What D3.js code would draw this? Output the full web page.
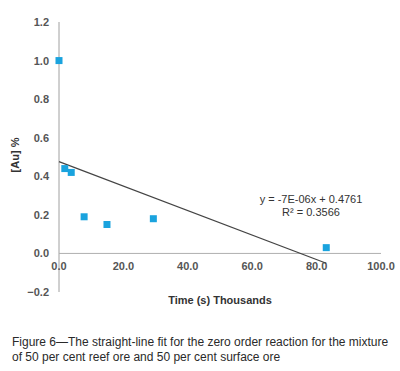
<!DOCTYPE html>
<html>
<head>
<meta charset="utf-8">
<script src="https://cdn.jsdelivr.net/npm/d3@7"></script>
<style>
  body { margin: 0; background: #fff; }
  svg { font-family: "Liberation Sans", Arial, sans-serif; }
</style>
</head>
<body>
<script>
// data (time in thousands of seconds, [Au] %)
const timeK = [0, 1.8, 3.8, 7.8, 14.9, 29.3, 83.0];
const auPct = [1.0, 0.44, 0.42, 0.19, 0.15, 0.18, 0.03];
const xTicks = [0, 20, 40, 60, 80, 100];
const yTicks = [-0.2, 0, 0.2, 0.4, 0.6, 0.8, 1.0, 1.2];
const fitSlope = -0.00635;   // per thousand seconds
const fitIntercept = 0.4761;
const fitLabel = ["y = -7E-06x + 0.4761", "R² = 0.3566"];
const caption = [
    "Figure 6\u2014The straight-line fit for the zero order reaction for the mixture",
    "of 50 per cent reef ore and 50 per cent surface ore"
];

const width = 400, height = 371;

const svg = d3.select("body")
    .append("svg")
    .attr("width", width)
    .attr("height", height);

const x = d3.scaleLinear().domain([0, 100]).range([59, 381]);
const y = d3.scaleLinear().domain([-0.2, 1.2]).range([292, 22]);

// y axis line
svg.append("line")
    .attr("x1", x(0)).attr("x2", x(0))
    .attr("y1", y(1.2)).attr("y2", y(-0.2))
    .attr("stroke", "#a0a0a0").attr("stroke-width", 1);

// zero line
svg.append("line")
    .attr("x1", x(0)).attr("x2", x(100))
    .attr("y1", y(0)).attr("y2", y(0))
    .attr("stroke", "#b0b0b0").attr("stroke-width", 1);

// y tick labels
svg.selectAll(".ylab")
    .data(yTicks)
    .join("text")
    .attr("class", "ylab")
    .attr("x", 49)
    .attr("y", d => y(d) + 4)
    .attr("text-anchor", "end")
    .attr("font-size", "11px")
    .attr("font-weight", "bold")
    .attr("fill", "#555")
    .text(d => d3.format(".1f")(d));

// x tick labels, sit just under the zero line
svg.selectAll(".xlab")
    .data(xTicks)
    .join("text")
    .attr("class", "xlab")
    .attr("x", d => x(d))
    .attr("y", y(0) + 17)
    .attr("text-anchor", "middle")
    .attr("font-size", "11px")
    .attr("font-weight", "bold")
    .attr("fill", "#555")
    .text(d => d3.format(".1f")(d));

// trendline
const xEnd = d3.max(timeK);
svg.append("line")
    .attr("x1", x(0)).attr("y1", y(fitIntercept))
    .attr("x2", x(xEnd)).attr("y2", y(fitIntercept + fitSlope * xEnd))
    .attr("stroke", "#444").attr("stroke-width", 1.2);

// markers
const pts = timeK.map((t, i) => ({ t: t, v: auPct[i] }));
svg.selectAll(".pt")
    .data(pts)
    .join("rect")
    .attr("class", "pt")
    .attr("x", d => x(d.t) - 3.5)
    .attr("y", d => y(d.v) - 3.5)
    .attr("width", 7)
    .attr("height", 7)
    .attr("fill", "#1aa3de");

// equation label
svg.selectAll(".eq")
    .data(fitLabel)
    .join("text")
    .attr("class", "eq")
    .attr("x", 311)
    .attr("y", (d, i) => 203 + i * 13)
    .attr("text-anchor", "middle")
    .attr("font-size", "11px")
    .attr("fill", "#333")
    .text(d => d);

// axis titles
svg.append("text")
    .attr("transform", "translate(19,155) rotate(-90)")
    .attr("text-anchor", "middle")
    .attr("font-size", "11px")
    .attr("font-weight", "bold")
    .attr("fill", "#333")
    .text("[Au] %");

svg.append("text")
    .attr("x", 220)
    .attr("y", 304)
    .attr("text-anchor", "middle")
    .attr("font-size", "11px")
    .attr("font-weight", "bold")
    .attr("fill", "#333")
    .text("Time (s) Thousands");

// caption
svg.selectAll(".cap")
    .data(caption)
    .join("text")
    .attr("class", "cap")
    .attr("x", 12)
    .attr("y", (d, i) => 346 + i * 15)
    .attr("font-size", "12px")
    .attr("fill", "#2a2a2a")
    .text(d => d);
</script>
</body>
</html>
